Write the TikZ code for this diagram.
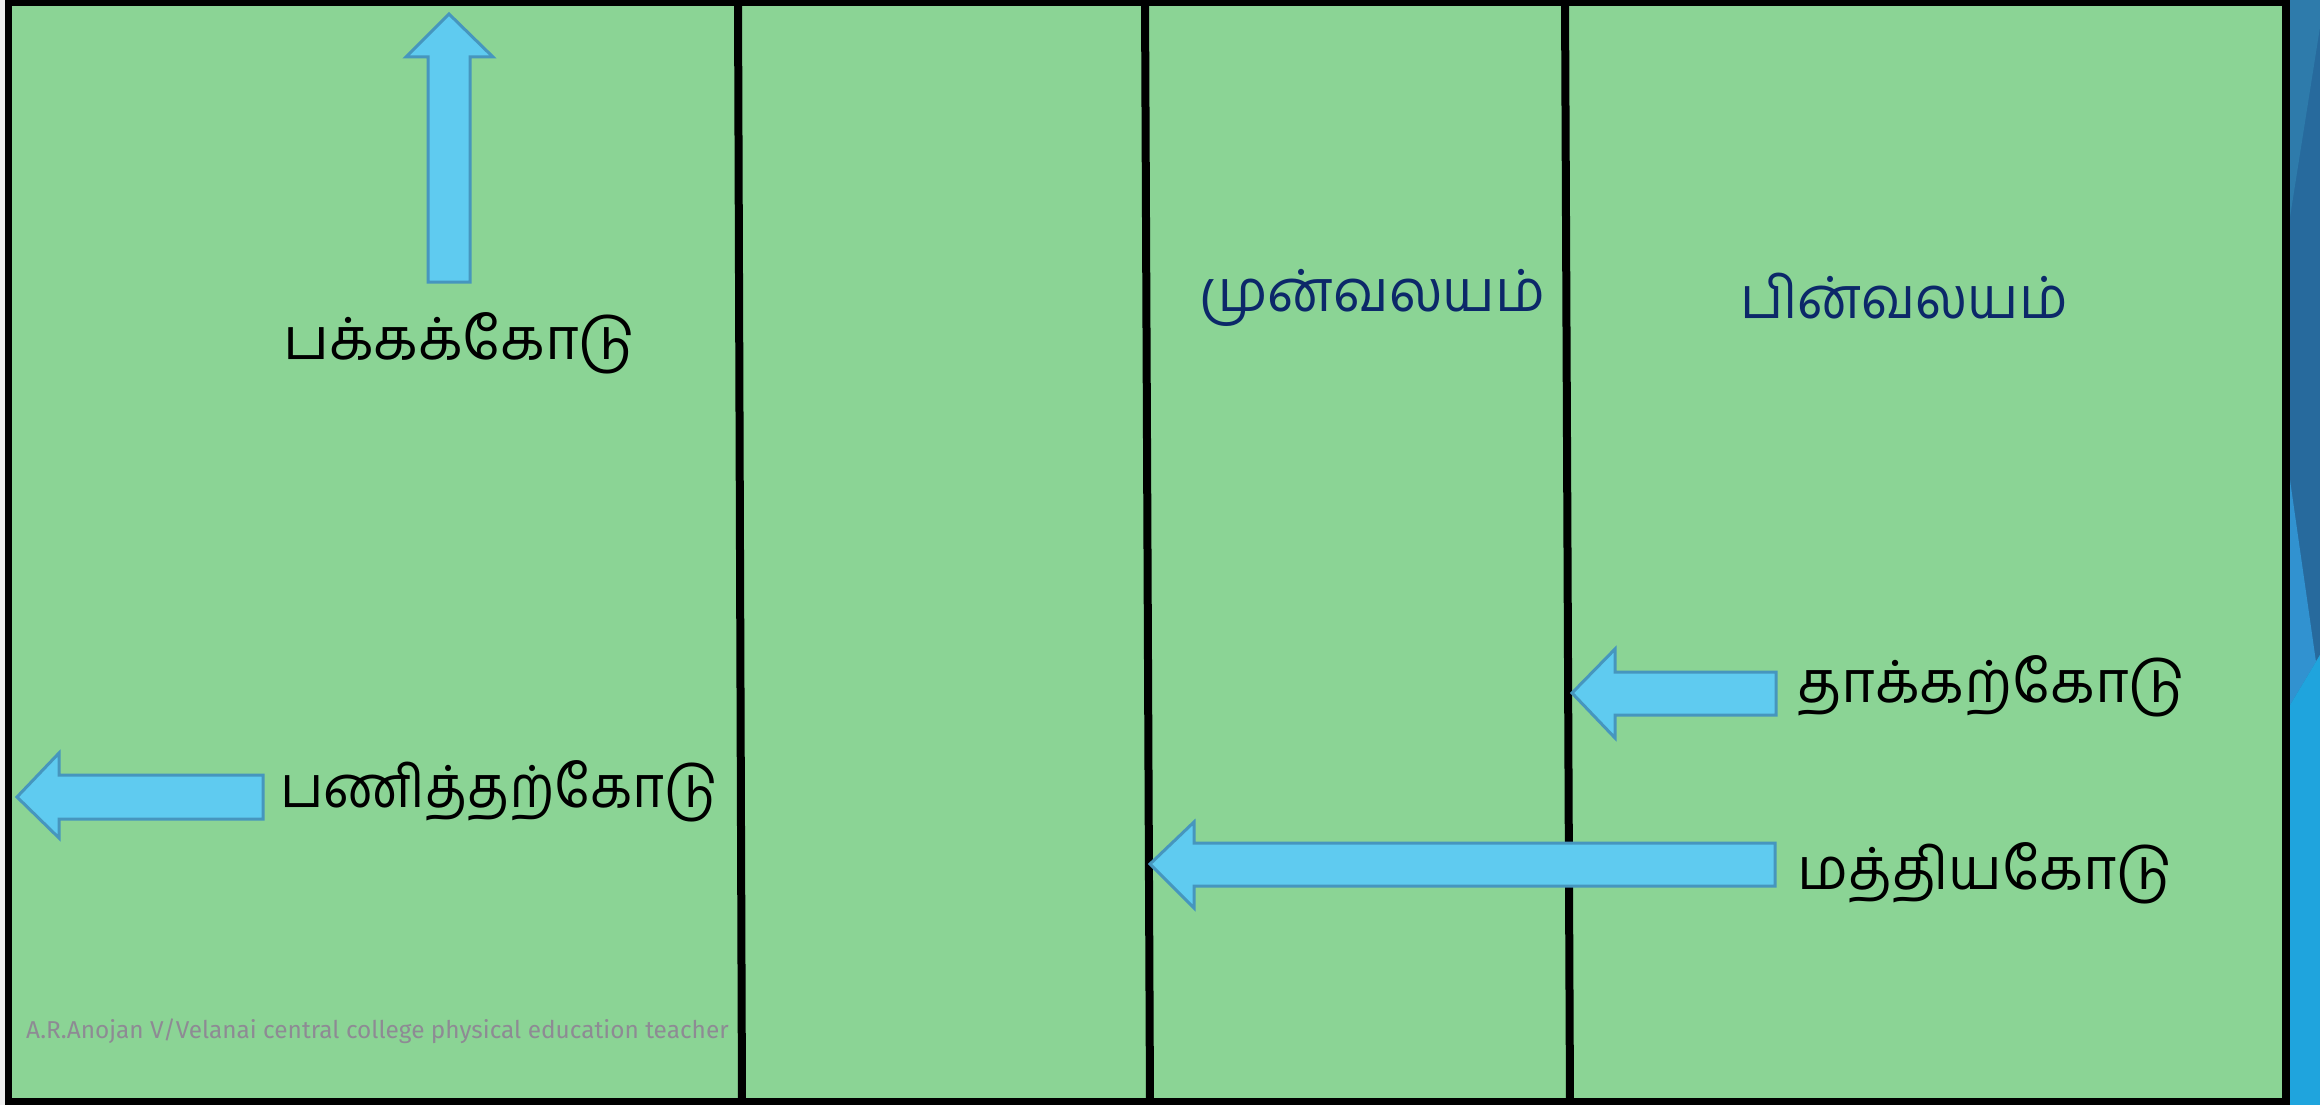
\documentclass[tikz,border=0pt]{standalone}
\usepackage{fontspec}
\usepackage{graphicx}
\newfontfamily\tamilfont[Script=Tamil]{Hind Madurai}
\newfontfamily\footfont{Fira Sans}
\definecolor{field}{RGB}{139,212,149}
\definecolor{arrfill}{RGB}{95,203,240}
\definecolor{arrline}{RGB}{70,150,190}
\definecolor{zonecol}{RGB}{12,40,105}
\definecolor{footcol}{RGB}{142,138,148}
\definecolor{stripA}{RGB}{39,106,157}
\definecolor{stripB}{RGB}{46,123,171}
\definecolor{stripC}{RGB}{49,146,208}
\definecolor{stripD}{RGB}{31,164,221}
\definecolor{margin}{RGB}{238,238,238}
\tikzset{
  blockarrow/.style={fill=arrfill,draw=arrline,line width=3pt,line join=miter},
  fieldline/.style={draw=black,line width=8pt},
  tamillabel/.style={font=\tamilfont\fontsize{58}{70}\selectfont,inner sep=0pt,anchor=base west},
  zonelabel/.style={tamillabel,text=zonecol},
  footlabel/.style={font=\footfont\fontsize{24.4}{28}\selectfont,text=footcol,inner sep=0pt,anchor=base west}
}
\begin{document}
\begin{tikzpicture}[x=1pt,y=-1pt]
\useasboundingbox (0,0) rectangle (2320,1105);
% background strips
\fill[margin] (0,0) rectangle (2290,1105);
\fill[stripA] (2290,0) rectangle (2320,1105);
\fill[stripB] (2290,0) -- (2320,0) -- (2320,27) -- (2290,217) -- cycle;
\fill[stripC] (2290,480) -- (2316,662) -- (2320,655) -- (2290,705) -- cycle;
\fill[stripD] (2290,705) -- (2320,655) -- (2320,1105) -- (2290,1105) -- cycle;
% field
\fill[field] (8.5,2.5) rectangle (2286,1101.5);
\draw[fieldline] (738,0) -- (742,1105);
\draw[fieldline] (1145,0) -- (1150,1105);
\draw[fieldline] (1565,0) -- (1570,1105);
\draw[draw=black,line width=7.5pt] (8.5,2.5) rectangle (2286,1101.5);
% arrows
\draw[blockarrow] (449,14) -- (493,57) -- (470,57) -- (470,282) -- (428,282) -- (428,57) -- (406,57) -- cycle;
\draw[blockarrow] (17,797) -- (59,753) -- (59,775) -- (263,775) -- (263,819) -- (59,819) -- (59,838) -- cycle;
\draw[blockarrow] (1572,693) -- (1615,649) -- (1615,672) -- (1776,672) -- (1776,715) -- (1615,715) -- (1615,738) -- cycle;
\draw[blockarrow] (1150,864) -- (1194,822) -- (1194,843) -- (1775,843) -- (1775,886) -- (1194,886) -- (1194,908) -- cycle;
% labels
\node[tamillabel] (side) at (283,359) {பக்கக்கோடு};
\node[zonelabel] (front) at (1199,311) {\scalebox{0.965}[1]{முன்வலயம்}};
\node[zonelabel] (back) at (1740,318) {\scalebox{0.94}[1]{பின்வலயம்}};
\node[tamillabel] (attack) at (1797,702) {தாக்கற்கோடு};
\node[tamillabel] (centre) at (1797,889) {\scalebox{0.985}[1]{மத்தியகோடு}};
\node[tamillabel] (service) at (280,807) {\scalebox{0.945}[1]{பணித்தற்கோடு}};
\node[footlabel] (credit) at (26,1038) {A.R.Anojan V/Velanai central college physical education teacher};
\end{tikzpicture}
\end{document}
